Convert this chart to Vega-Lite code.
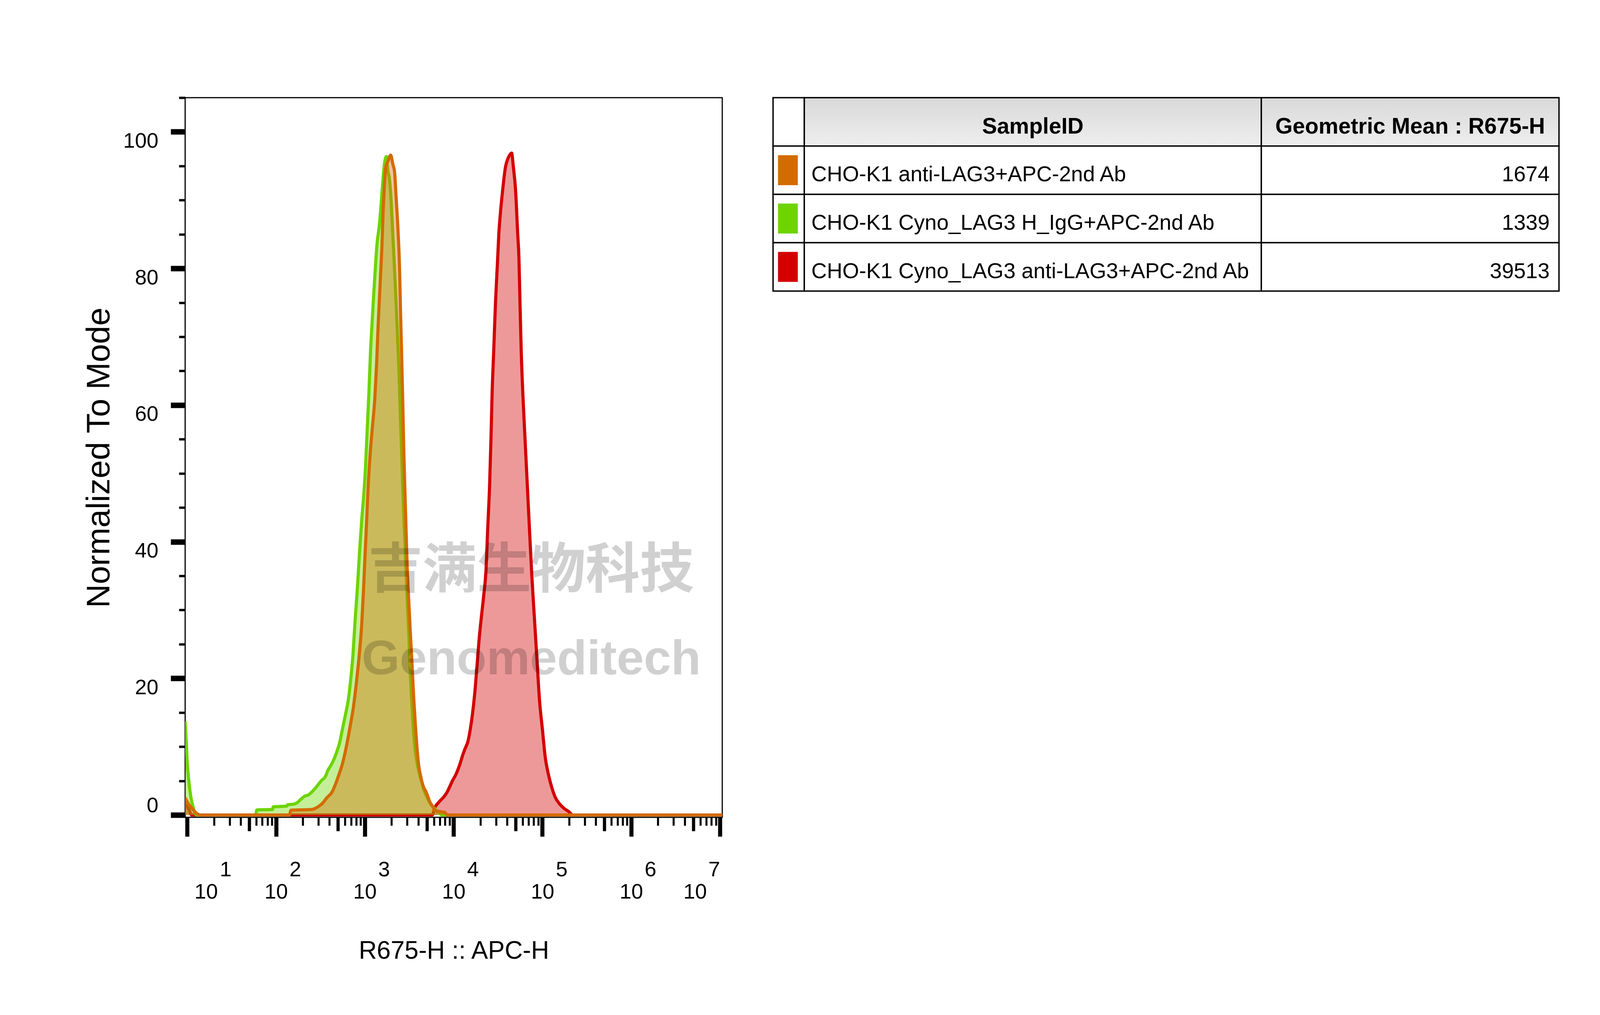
{
  "$schema": "https://vega.github.io/schema/vega-lite/v6.json",
  "background": "white",
  "padding": {"left": 211, "top": 245, "right": 5, "bottom": 5},
  "spacing": 126,
  "datasets": {
    "orange": [
      {"intensity": 9.484, "pct": 2.5}, {"intensity": 10.47, "pct": 1.5}, {"intensity": 11.48, "pct": 0.9}, {"intensity": 12.88, "pct": 0.2},
      {"intensity": 14.13, "pct": 0}, {"intensity": 141.3, "pct": 0}, {"intensity": 147.9, "pct": 0.7}, {"intensity": 251.2, "pct": 0.8},
      {"intensity": 305.5, "pct": 1.3}, {"intensity": 332.7, "pct": 1.7}, {"intensity": 372.4, "pct": 2.5}, {"intensity": 429.5, "pct": 3.4},
      {"intensity": 467.7, "pct": 4.5}, {"intensity": 523.6, "pct": 6.3}, {"intensity": 554.6, "pct": 7.3}, {"intensity": 603.9, "pct": 9.3},
      {"intensity": 676.1, "pct": 12.6}, {"intensity": 746.4, "pct": 15.9}, {"intensity": 812.8, "pct": 19.9}, {"intensity": 873.0, "pct": 23.9},
      {"intensity": 922.6, "pct": 27.8}, {"intensity": 963.9, "pct": 32.5}, {"intensity": 1005, "pct": 37.8}, {"intensity": 1050, "pct": 43.1},
      {"intensity": 1094, "pct": 48.4}, {"intensity": 1143, "pct": 52.4}, {"intensity": 1211, "pct": 56.4}, {"intensity": 1297, "pct": 61.0},
      {"intensity": 1355, "pct": 65.7}, {"intensity": 1413, "pct": 71.6}, {"intensity": 1496, "pct": 78.3}, {"intensity": 1563, "pct": 83.6},
      {"intensity": 1607, "pct": 88.2}, {"intensity": 1652, "pct": 91.5}, {"intensity": 1726, "pct": 94.9}, {"intensity": 1824, "pct": 95.7},
      {"intensity": 1959, "pct": 96.6}, {"intensity": 2075, "pct": 95.2}, {"intensity": 2163, "pct": 94.2}, {"intensity": 2259, "pct": 90.2},
      {"intensity": 2355, "pct": 86.2}, {"intensity": 2460, "pct": 80.3}, {"intensity": 2529, "pct": 73.6}, {"intensity": 2606, "pct": 67.0},
      {"intensity": 2679, "pct": 60.4}, {"intensity": 2754, "pct": 53.1}, {"intensity": 2838, "pct": 47.1}, {"intensity": 2917, "pct": 41.8},
      {"intensity": 2999, "pct": 36.5}, {"intensity": 3133, "pct": 31.2}, {"intensity": 3266, "pct": 26.5}, {"intensity": 3412, "pct": 21.9},
      {"intensity": 3556, "pct": 17.2}, {"intensity": 3715, "pct": 13.2}, {"intensity": 3873, "pct": 9.9}, {"intensity": 4046, "pct": 7.3},
      {"intensity": 4276, "pct": 5.6}, {"intensity": 4529, "pct": 4.3}, {"intensity": 4932, "pct": 3.3}, {"intensity": 5370, "pct": 2.0},
      {"intensity": 5768, "pct": 1.3}, {"intensity": 6368, "pct": 0.6}, {"intensity": 6934, "pct": 0.5}, {"intensity": 7943, "pct": 0.4},
      {"intensity": 8511, "pct": 0}, {"intensity": 10620000, "pct": 0}
    ],
    "green": [
      {"intensity": 9.484, "pct": 13.7}, {"intensity": 9.772, "pct": 10.5}, {"intensity": 10, "pct": 7.8}, {"intensity": 10.47, "pct": 4.8},
      {"intensity": 11.04, "pct": 2.5}, {"intensity": 11.75, "pct": 1.0}, {"intensity": 12.45, "pct": 0.1}, {"intensity": 13.18, "pct": 0},
      {"intensity": 58.88, "pct": 0}, {"intensity": 60.95, "pct": 0.75}, {"intensity": 91.2, "pct": 0.8}, {"intensity": 93.33, "pct": 1.2},
      {"intensity": 131.8, "pct": 1.3}, {"intensity": 134.9, "pct": 1.5}, {"intensity": 158.5, "pct": 1.6}, {"intensity": 173.0, "pct": 1.8},
      {"intensity": 190.5, "pct": 2.3}, {"intensity": 213.8, "pct": 2.8}, {"intensity": 229.6, "pct": 2.9}, {"intensity": 250.0, "pct": 3.3},
      {"intensity": 280.5, "pct": 4.0}, {"intensity": 322.8, "pct": 5.0}, {"intensity": 362.2, "pct": 5.7}, {"intensity": 382.8, "pct": 6.5},
      {"intensity": 416.9, "pct": 7.3}, {"intensity": 453.9, "pct": 8.3}, {"intensity": 494.3, "pct": 9.6}, {"intensity": 523.6, "pct": 10.7},
      {"intensity": 554.6, "pct": 12.3}, {"intensity": 603.9, "pct": 14.6}, {"intensity": 657.7, "pct": 17.2}, {"intensity": 695.0, "pct": 19.9},
      {"intensity": 736.2, "pct": 23.5}, {"intensity": 778.0, "pct": 28.5}, {"intensity": 824.1, "pct": 33.1}, {"intensity": 873.0, "pct": 38.5},
      {"intensity": 922.6, "pct": 43.1}, {"intensity": 977.2, "pct": 47.1}, {"intensity": 1021, "pct": 51.1}, {"intensity": 1064, "pct": 56.4},
      {"intensity": 1112, "pct": 61.7}, {"intensity": 1159, "pct": 67.7}, {"intensity": 1211, "pct": 72.3}, {"intensity": 1262, "pct": 76.3},
      {"intensity": 1318, "pct": 80.3}, {"intensity": 1374, "pct": 83.6}, {"intensity": 1455, "pct": 86.2}, {"intensity": 1517, "pct": 88.9},
      {"intensity": 1585, "pct": 92.2}, {"intensity": 1652, "pct": 94.9}, {"intensity": 1750, "pct": 96.4}, {"intensity": 1824, "pct": 94.2},
      {"intensity": 1879, "pct": 93.4}, {"intensity": 1959, "pct": 90.9}, {"intensity": 2046, "pct": 86.2}, {"intensity": 2133, "pct": 81.6},
      {"intensity": 2228, "pct": 76.3}, {"intensity": 2323, "pct": 71.0}, {"intensity": 2427, "pct": 65.0}, {"intensity": 2529, "pct": 57.7},
      {"intensity": 2642, "pct": 50.4}, {"intensity": 2754, "pct": 43.8}, {"intensity": 2877, "pct": 37.8}, {"intensity": 2999, "pct": 31.8},
      {"intensity": 3133, "pct": 26.5}, {"intensity": 3266, "pct": 20.5}, {"intensity": 3412, "pct": 15.9}, {"intensity": 3556, "pct": 11.9},
      {"intensity": 3715, "pct": 9.3}, {"intensity": 3926, "pct": 7.3}, {"intensity": 4276, "pct": 5.3}, {"intensity": 4656, "pct": 3.6},
      {"intensity": 5070, "pct": 2.5}, {"intensity": 5521, "pct": 1.6}, {"intensity": 6194, "pct": 0.9}, {"intensity": 6934, "pct": 0.3},
      {"intensity": 7345, "pct": 0}, {"intensity": 10620000, "pct": 0}
    ],
    "red": [
      {"intensity": 9.484, "pct": 1.5}, {"intensity": 10.47, "pct": 0.8}, {"intensity": 11.22, "pct": 0}, {"intensity": 5768, "pct": 0},
      {"intensity": 6109, "pct": 1.0}, {"intensity": 6855, "pct": 1.9}, {"intensity": 7709, "pct": 2.6}, {"intensity": 8414, "pct": 3.3},
      {"intensity": 9162, "pct": 4.3}, {"intensity": 9705, "pct": 5.0}, {"intensity": 10590, "pct": 5.9}, {"intensity": 11890, "pct": 7.6},
      {"intensity": 12620, "pct": 8.7}, {"intensity": 13370, "pct": 9.6}, {"intensity": 14590, "pct": 10.9}, {"intensity": 15450, "pct": 12.6},
      {"intensity": 16370, "pct": 14.9}, {"intensity": 17340, "pct": 17.9}, {"intensity": 18370, "pct": 21.9}, {"intensity": 19450, "pct": 25.9},
      {"intensity": 20650, "pct": 29.2}, {"intensity": 21880, "pct": 32.2}, {"intensity": 23170, "pct": 35.8}, {"intensity": 24210, "pct": 41.8},
      {"intensity": 25470, "pct": 48.4}, {"intensity": 26360, "pct": 55.0}, {"intensity": 27160, "pct": 61.7}, {"intensity": 28380, "pct": 68.3},
      {"intensity": 29650, "pct": 75.0}, {"intensity": 31410, "pct": 81.6}, {"intensity": 32280, "pct": 84.9}, {"intensity": 33730, "pct": 88.2},
      {"intensity": 35730, "pct": 91.5}, {"intensity": 38460, "pct": 94.9}, {"intensity": 41300, "pct": 96.2}, {"intensity": 45080, "pct": 96.9},
      {"intensity": 47100, "pct": 94.9}, {"intensity": 49890, "pct": 91.5}, {"intensity": 52840, "pct": 84.9}, {"intensity": 54450, "pct": 81.6},
      {"intensity": 55980, "pct": 75.0}, {"intensity": 57680, "pct": 68.3}, {"intensity": 60260, "pct": 61.7}, {"intensity": 63830, "pct": 55.0},
      {"intensity": 67610, "pct": 48.4}, {"intensity": 71610, "pct": 41.8}, {"intensity": 76030, "pct": 35.1}, {"intensity": 81660, "pct": 28.5},
      {"intensity": 87700, "pct": 21.9}, {"intensity": 93110, "pct": 16.6}, {"intensity": 100000, "pct": 12.6}, {"intensity": 107400, "pct": 8.6},
      {"intensity": 117200, "pct": 5.9}, {"intensity": 127900, "pct": 4.0}, {"intensity": 139600, "pct": 2.6}, {"intensity": 156700, "pct": 1.6},
      {"intensity": 175800, "pct": 0.96}, {"intensity": 197700, "pct": 0.5}, {"intensity": 221800, "pct": 0}, {"intensity": 10620000, "pct": 0}
    ],
    "samples": [
      {"sample": "CHO-K1 anti-LAG3+APC-2nd Ab", "gmean": 1674},
      {"sample": "CHO-K1 Cyno_LAG3 H_IgG+APC-2nd Ab", "gmean": 1339},
      {"sample": "CHO-K1 Cyno_LAG3 anti-LAG3+APC-2nd Ab", "gmean": 39513}
    ],
    "header": [
      {"c2": "SampleID", "c3": "Geometric Mean : R675-H"}
    ],
    "watermark": [
      {"cn": "吉满生物科技", "en": "Genomeditech"}
    ]
  },
  "hconcat": [
    {
      "width": 1375,
      "height": 1842,
      "view": {"stroke": "black", "strokeWidth": 3},
      "resolve": {"axis": {"x": "independent", "y": "independent"}},
      "layer": [
        {
          "data": {"name": "red"},
          "mark": {"type": "area", "color": "#d40000", "fillOpacity": 0.4, "interpolate": "monotone", "clip": true,
                   "line": {"color": "#d40000", "strokeWidth": 8, "strokeJoin": "round"}},
          "encoding": {
            "x": {"field": "intensity", "type": "quantitative",
                  "scale": {"type": "log", "domain": [9.484, 10620000], "nice": false},
                  "axis": {"orient": "bottom", "title": null, "labels": false, "tickSize": 21, "tickWidth": 5.2,
                           "values": [20, 30, 40, 60, 70, 80, 90, 200, 300, 400, 600, 700, 800, 900, 2000, 3000, 4000, 6000, 7000, 8000, 9000,
                                      20000, 30000, 40000, 60000, 70000, 80000, 90000, 200000, 300000, 400000, 600000, 700000, 800000, 900000,
                                      2000000, 3000000, 4000000, 6000000, 7000000, 8000000, 9000000]}},
            "y": {"field": "pct", "type": "quantitative",
                  "scale": {"domain": [-0.34, 105], "nice": false, "zero": false},
                  "axis": {"orient": "left", "values": [0, 20, 40, 60, 80, 100], "tickSize": 37, "tickWidth": 14,
                           "labelFontSize": 54, "labelPadding": 32, "labelBaseline": "alphabetic",
                           "labelOffset": {"expr": "datum.value == 0 ? -8 : 40"},
                           "title": "Normalized To Mode", "titleFontSize": 84, "titlePadding": 17}}
          }
        },
        {
          "data": {"name": "green"},
          "mark": {"type": "area", "color": "#6dd400", "fillOpacity": 0.4, "interpolate": "monotone", "clip": true,
                   "line": {"color": "#6dd400", "strokeWidth": 8, "strokeJoin": "round"}},
          "encoding": {
            "x": {"field": "intensity", "type": "quantitative",
                  "scale": {"type": "log", "domain": [9.484, 10620000], "nice": false},
                  "axis": {"orient": "bottom", "title": null, "labels": false, "tickSize": 35, "tickWidth": 8.2,
                           "values": [50, 500, 5000, 50000, 500000, 5000000]}},
            "y": {"field": "pct", "type": "quantitative",
                  "scale": {"domain": [-0.34, 105], "nice": false, "zero": false},
                  "axis": {"orient": "left", "title": null, "labels": false, "tickSize": 16, "tickWidth": 6,
                           "values": [5, 10, 15, 25, 30, 35, 45, 50, 55, 65, 70, 75, 85, 90, 95, 105]}}
          }
        },
        {
          "data": {"name": "orange"},
          "mark": {"type": "area", "color": "#d46b00", "fillOpacity": 0.4, "interpolate": "monotone", "clip": true,
                   "line": {"color": "#d46b00", "strokeWidth": 8, "strokeJoin": "round"}},
          "encoding": {
            "x": {"field": "intensity", "type": "quantitative",
                  "scale": {"type": "log", "domain": [9.484, 10620000], "nice": false},
                  "axis": {"orient": "bottom", "values": [10, 100, 1000, 10000, 100000, 1000000, 10000000],
                           "tickSize": 49, "tickWidth": 10.4, "labelExpr": "'10'", "labelFontSize": 54,
                           "labelBaseline": "alphabetic", "labelPadding": 158,
                           "labelOffset": {"expr": "datum.value < 11 ? 48 : (datum.value > 9000000 ? -64 : 0)"},
                           "title": "R675-H :: APC-H", "titleFontSize": 64, "titlePadding": 110}},
            "y": {"field": "pct", "type": "quantitative",
                  "scale": {"domain": [-0.34, 105], "nice": false, "zero": false}, "axis": null}
          }
        },
        {
          "data": {"name": "watermark"},
          "mark": {"type": "text", "font": "Noto Sans CJK SC", "fontWeight": "bold", "fontSize": 139,
                   "color": "#d0d0d0", "blend": "multiply", "align": "center", "baseline": "alphabetic"},
          "encoding": {
            "text": {"field": "cn"},
            "x": {"datum": 75000, "type": "quantitative",
                  "scale": {"type": "log", "domain": [9.484, 10620000], "nice": false},
                  "axis": {"orient": "bottom", "title": null, "values": [10, 100, 1000, 10000, 100000, 1000000, 10000000],
                           "tickSize": 0, "tickOpacity": 0, "labelFontSize": 54, "labelBaseline": "alphabetic", "labelPadding": 150,
                           "labelExpr": "'' + round(log(datum.value) / LN10)",
                           "labelOffset": {"expr": "datum.value < 11 ? 98 : (datum.value > 9000000 ? -15 : 49)"}}},
            "y": {"datum": 33.3, "type": "quantitative",
                  "scale": {"domain": [-0.34, 105], "nice": false, "zero": false}, "axis": null}
          }
        },
        {
          "data": {"name": "watermark"},
          "mark": {"type": "text", "font": "Liberation Sans", "fontWeight": "bold", "fontSize": 125,
                   "color": "#d0d0d0", "blend": "multiply", "align": "center", "baseline": "alphabetic"},
          "encoding": {
            "text": {"field": "en"},
            "x": {"datum": 75000, "type": "quantitative",
                  "scale": {"type": "log", "domain": [9.484, 10620000], "nice": false}, "axis": null},
            "y": {"datum": 20.6, "type": "quantitative",
                  "scale": {"domain": [-0.34, 105], "nice": false, "zero": false}, "axis": null}
          }
        }
      ]
    },
    {
      "width": 2012,
      "height": 495,
      "view": {"stroke": null},
      "layer": [
        {
          "data": {"name": "header"},
          "mark": {"type": "rect", "fill": "white", "stroke": "black", "strokeWidth": 3.5},
          "encoding": {
            "x": {"datum": 0, "type": "quantitative", "scale": {"domain": [0, 2012], "nice": false, "zero": false}, "axis": null},
            "x2": {"datum": 80},
            "y": {"datum": "SampleID", "type": "nominal",
                  "scale": {"domain": ["SampleID", "CHO-K1 anti-LAG3+APC-2nd Ab", "CHO-K1 Cyno_LAG3 H_IgG+APC-2nd Ab", "CHO-K1 Cyno_LAG3 anti-LAG3+APC-2nd Ab"],
                            "paddingInner": 0, "paddingOuter": 0}, "axis": null}
          }
        },
        {
          "data": {"name": "header"},
          "mark": {"type": "rect", "stroke": "black", "strokeWidth": 3.5,
                   "fill": {"gradient": "linear", "x1": 0, "y1": 0, "x2": 0, "y2": 1,
                            "stops": [{"offset": 0, "color": "#d9d9d9"}, {"offset": 1, "color": "#eeeeee"}]}},
          "encoding": {
            "x": {"datum": 80, "type": "quantitative", "scale": {"domain": [0, 2012], "nice": false, "zero": false}, "axis": null},
            "x2": {"datum": 1250},
            "y": {"datum": "SampleID", "type": "nominal", "axis": null}
          }
        },
        {
          "data": {"name": "header"},
          "mark": {"type": "rect", "stroke": "black", "strokeWidth": 3.5,
                   "fill": {"gradient": "linear", "x1": 0, "y1": 0, "x2": 0, "y2": 1,
                            "stops": [{"offset": 0, "color": "#d9d9d9"}, {"offset": 1, "color": "#eeeeee"}]}},
          "encoding": {
            "x": {"datum": 1250, "type": "quantitative", "scale": {"domain": [0, 2012], "nice": false, "zero": false}, "axis": null},
            "x2": {"datum": 2012},
            "y": {"datum": "SampleID", "type": "nominal", "axis": null}
          }
        },
        {
          "data": {"name": "samples"},
          "mark": {"type": "rect", "fill": "white", "stroke": "black", "strokeWidth": 3.5},
          "encoding": {
            "x": {"datum": 0, "type": "quantitative", "scale": {"domain": [0, 2012], "nice": false, "zero": false}, "axis": null},
            "x2": {"datum": 80},
            "y": {"field": "sample", "type": "nominal", "axis": null}
          }
        },
        {
          "data": {"name": "samples"},
          "mark": {"type": "rect", "fill": "white", "stroke": "black", "strokeWidth": 3.5},
          "encoding": {
            "x": {"datum": 80, "type": "quantitative", "scale": {"domain": [0, 2012], "nice": false, "zero": false}, "axis": null},
            "x2": {"datum": 1250},
            "y": {"field": "sample", "type": "nominal", "axis": null}
          }
        },
        {
          "data": {"name": "samples"},
          "mark": {"type": "rect", "fill": "white", "stroke": "black", "strokeWidth": 3.5},
          "encoding": {
            "x": {"datum": 1250, "type": "quantitative", "scale": {"domain": [0, 2012], "nice": false, "zero": false}, "axis": null},
            "x2": {"datum": 2012},
            "y": {"field": "sample", "type": "nominal", "axis": null}
          }
        },
        {
          "data": {"name": "samples"},
          "mark": {"type": "bar", "height": {"band": 0.62}},
          "encoding": {
            "x": {"datum": 12.7, "type": "quantitative", "scale": {"domain": [0, 2012], "nice": false, "zero": false}, "axis": null},
            "x2": {"datum": 63.4},
            "y": {"field": "sample", "type": "nominal", "axis": null},
            "color": {"field": "sample", "type": "nominal", "legend": null,
                      "scale": {"domain": ["CHO-K1 anti-LAG3+APC-2nd Ab", "CHO-K1 Cyno_LAG3 H_IgG+APC-2nd Ab", "CHO-K1 Cyno_LAG3 anti-LAG3+APC-2nd Ab"],
                                "range": ["#d46b00", "#6dd400", "#d40000"]}}
          }
        },
        {
          "data": {"name": "samples"},
          "mark": {"type": "text", "align": "left", "baseline": "alphabetic", "dx": 18, "dy": 28.5, "fontSize": 55, "font": "Liberation Sans", "color": "black"},
          "encoding": {
            "x": {"datum": 80, "type": "quantitative", "scale": {"domain": [0, 2012], "nice": false, "zero": false}, "axis": null},
            "y": {"field": "sample", "type": "nominal", "axis": null},
            "text": {"field": "sample"}
          }
        },
        {
          "data": {"name": "samples"},
          "mark": {"type": "text", "align": "right", "baseline": "alphabetic", "dx": -24, "dy": 28.5, "fontSize": 55, "font": "Liberation Sans", "color": "black"},
          "encoding": {
            "x": {"datum": 2012, "type": "quantitative", "scale": {"domain": [0, 2012], "nice": false, "zero": false}, "axis": null},
            "y": {"field": "sample", "type": "nominal", "axis": null},
            "text": {"field": "gmean", "type": "quantitative", "format": "d"}
          }
        },
        {
          "data": {"name": "header"},
          "mark": {"type": "text", "align": "center", "baseline": "alphabetic", "dy": 30, "fontSize": 57, "fontWeight": "bold", "font": "Liberation Sans", "color": "black"},
          "encoding": {
            "x": {"datum": 665, "type": "quantitative", "scale": {"domain": [0, 2012], "nice": false, "zero": false}, "axis": null},
            "y": {"datum": "SampleID", "type": "nominal", "axis": null},
            "text": {"field": "c2"}
          }
        },
        {
          "data": {"name": "header"},
          "mark": {"type": "text", "align": "center", "baseline": "alphabetic", "dy": 30, "fontSize": 57, "fontWeight": "bold", "font": "Liberation Sans", "color": "black"},
          "encoding": {
            "x": {"datum": 1631, "type": "quantitative", "scale": {"domain": [0, 2012], "nice": false, "zero": false}, "axis": null},
            "y": {"datum": "SampleID", "type": "nominal", "axis": null},
            "text": {"field": "c3"}
          }
        }
      ]
    }
  ],
  "config": {
    "font": "Liberation Sans",
    "view": {"stroke": null},
    "axis": {
      "domain": false,
      "grid": false,
      "labelFlush": false,
      "labelOverlap": false,
      "labelBound": false,
      "labelFont": "Liberation Sans",
      "titleFont": "Liberation Sans",
      "labelColor": "black",
      "titleColor": "black",
      "tickColor": "black",
      "titleFontWeight": "normal"
    }
  }
}
